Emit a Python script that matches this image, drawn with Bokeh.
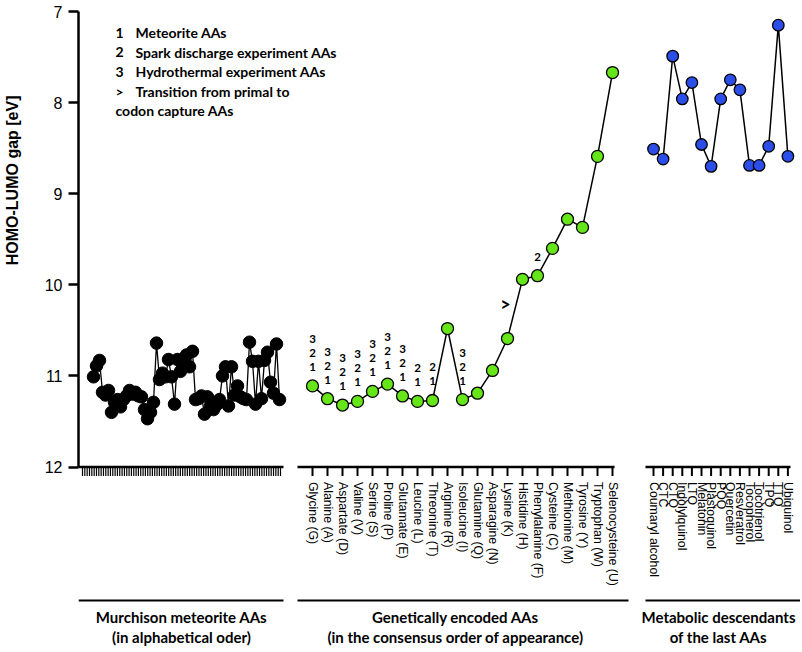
import numpy as np
from bokeh.plotting import figure
from bokeh.models import Range1d, FixedTicker, ColumnDataSource, Title
from bokeh.core.properties import value
from bokeh.embed import file_html
from bokeh.resources import INLINE

# ---------------- data ----------------
murchison_gap = [11.01, 10.89, 10.83, 11.18, 11.21, 11.16, 11.40, 11.29, 11.26, 11.34,
                 11.26, 11.22, 11.16, 11.20, 11.18, 11.22, 11.23, 11.37, 11.47, 11.40,
                 11.29, 10.64, 11.04, 10.97, 11.01, 10.82, 11.01, 11.31, 10.82, 10.95,
                 10.86, 10.77, 10.90, 10.73, 11.26, 11.25, 11.22, 11.42, 11.23, 11.33,
                 11.37, 11.32, 11.26, 11.00, 10.90, 11.33, 10.90, 11.21, 11.11, 11.23,
                 11.25, 11.26, 10.63, 10.84, 11.31, 10.84, 11.25, 10.83, 10.74, 11.07,
                 11.19, 10.65, 11.26]
murchison_tick_count = 86

genetic_names = ["Glycine (G)", "Alanine (A)", "Aspartate (D)", "Valine (V)", "Serine (S)",
                 "Proline (P)", "Glutamate (E)", "Leucine (L)", "Threonine (T)", "Arginine (R)",
                 "Isoleucine (I)", "Glutamine (Q)", "Asparagine (N)", "Lysine (K)", "Histidine (H)",
                 "Phenylalanine (F)", "Cysteine (C)", "Methionine (M)", "Tyrosine (Y)",
                 "Tryptophan (W)", "Selenocysteine (U)"]
genetic_gap = [11.11, 11.25, 11.32, 11.28, 11.17, 11.09, 11.22, 11.28, 11.27, 10.48,
               11.26, 11.19, 10.94, 10.59, 9.94, 9.90, 9.60, 9.28, 9.37, 8.59, 7.67]
# sources in which each AA was found (1 meteorite, 2 spark discharge, 3 hydrothermal)
genetic_sources = ["123", "123", "123", "123", "123", "123", "123", "12", "12", "",
                   "123", "", "", "", "", "2", "", "", "", "", ""]
transition_aa = "Lysine (K)"

metabolic_names = ["Coumaryl alcohol", "CTC", "CTQ", "Indolylquinol", "LTQ", "Melatonin",
                   "Plastoquinol", "PQQ", "Quercetin", "Resveratrol", "Tocopherol",
                   "Tocotrienol", "TPQ", "TTQ", "Ubiquinol"]
metabolic_gap = [8.51, 8.62, 7.49, 7.96, 7.78, 8.46, 8.70, 7.96, 7.75, 7.86, 8.69, 8.69,
                 8.48, 7.15, 8.59]

legend_keys = ["1", "2", "3", ">", ""]
legend_texts = ["Meteorite AAs", "Spark discharge experiment AAs", "Hydrothermal experiment AAs",
                "Transition from primal to", "codon capture AAs"]

group_titles = [("Murchison meteorite AAs", "(in alphabetical oder)"),
                ("Genetically encoded AAs", "(in the consensus order of appearance)"),
                ("Metabolic descendants", "of the last AAs")]
y_ticks = [7, 8, 9, 10, 11, 12]
y_title = "HOMO-LUMO gap [eV]"

# ---------------- layout helpers ----------------
PX_PER_UNIT = 91.1
Y0_PX = 11.0           # page pixel of value 7


def ypx(py):
    return 7 + (py - Y0_PX) / PX_PER_UNIT


W, H = 800, 650
LEFT = 78
FONT = "Lato"
AXFONT = "Liberation Sans"

p = figure(width=W, height=H, output_backend="svg", toolbar_location=None,
           x_range=Range1d(LEFT, W), y_range=Range1d(ypx(H), ypx(0)),
           min_border_left=LEFT, min_border_right=0, min_border_top=0, min_border_bottom=0,
           background_fill_color="white", border_fill_color="white")
p.outline_line_color = None
p.xgrid.visible = False
p.ygrid.visible = False
p.xaxis.visible = False

ya = p.yaxis[0]
ya.ticker = FixedTicker(ticks=y_ticks)
ya.bounds = (7, 12)
ya.axis_line_width = 2.5
ya.major_tick_line_width = 2.5
ya.major_tick_out = 10
ya.major_tick_in = 0
ya.minor_tick_line_color = None
ya.major_label_text_font = AXFONT
ya.major_label_text_font_size = "16px"
ya.major_label_text_color = "black"
ya.major_label_standoff = 6
# blank spacer label so the title sits further left
ya.axis_label = " "
ya.axis_label_text_font_size = "4px"
ya.axis_label_standoff = 13

p.add_layout(Title(text=y_title, align="right", offset=95, text_font=AXFONT,
                   text_font_size="16px", text_font_style="bold", text_color="black",
                   standoff=0), "left")

# ---------------- x positions ----------------
m_x = list(np.linspace(93, 279, len(murchison_gap)))
g_x = [312 + 15 * i for i in range(len(genetic_names))]
b_x = [653 + 9.6 * i for i in range(len(metabolic_names))]

# ---------------- broken x axes ----------------
y_axis_val = 12
tick_end = ypx(Y0_PX + 5 * PX_PER_UNIT + 9)
m_ticks = list(np.linspace(82, 280, murchison_tick_count))
axis_segments = [(78, 283), (297, 614), (645, 790)]
bar_segments = [(78, 283), (297, 628), (645, 800)]
for x0, x1 in axis_segments:
    p.segment(x0=[x0], y0=[y_axis_val], x1=[x1], y1=[y_axis_val], line_color="black",
              line_width=2.5)
all_ticks = m_ticks + g_x + b_x
tick_w = [1.2] * len(m_ticks) + [2] * (len(g_x) + len(b_x))
p.segment(x0=all_ticks, y0=[y_axis_val] * len(all_ticks), x1=all_ticks,
          y1=[tick_end] * len(all_ticks), line_color="black", line_width=tick_w)

# tick labels
p.text(x=g_x + b_x, y=[y_axis_val] * (len(g_x) + len(b_x)), text=genetic_names + metabolic_names,
       angle=-np.pi / 2, text_align="left", text_baseline="middle", y_offset=15,
       text_font=value(AXFONT), text_font_size="12.3px", text_color="black")

# group bars & titles
bar_y = ypx(600)
title_cx = [181, 455, 718]
for (x0, x1), (t1, t2), cx in zip(bar_segments, group_titles, title_cx):
    p.segment(x0=[x0], y0=[bar_y], x1=[x1], y1=[bar_y], line_color="black", line_width=2)
    p.text(x=[cx, cx], y=[ypx(616), ypx(636)], text=[t1, t2], text_align="center",
           text_baseline="middle", text_font=value(FONT), text_font_size="15px",
           text_font_style="bold", text_color="black")

# ---------------- data series ----------------
p.line(m_x, murchison_gap, line_color="black", line_width=1.3)
p.scatter(m_x, murchison_gap, size=12.5, fill_color="black", line_color="black")

p.line(g_x, genetic_gap, line_color="black", line_width=1.5)
p.scatter(g_x, genetic_gap, size=12, fill_color="#66e619", line_color="black", line_width=1.3)

p.line(b_x, metabolic_gap, line_color="black", line_width=1.5)
p.scatter(b_x, metabolic_gap, size=11.5, fill_color="#2c4ee8", line_color="black", line_width=1.3)

# source annotations
ax, ay, at, ao = [], [], [], []
for x, g, s in zip(g_x, genetic_gap, genetic_sources):
    for k, ch in enumerate(sorted(s)):
        ax.append(x)
        ay.append(g)
        at.append(ch)
        ao.append(-19 - 14 * k)
p.text(x="x", y="y", text="t", y_offset="o",
       source=ColumnDataSource(dict(x=ax, y=ay, t=at, o=ao)),
       text_align="center", text_baseline="middle", text_font=value(FONT),
       text_font_size="11.5px", text_font_style="bold", text_color="black")
ti = genetic_names.index(transition_aa)
p.text(x=[g_x[ti]], y=[genetic_gap[ti]], text=[">"], x_offset=-2, y_offset=-35,
       text_align="center", text_baseline="middle", text_font=value(FONT),
       text_font_size="18px", text_font_style="bold", text_color="black")

# legend
for i, (k, t) in enumerate(zip(legend_keys, legend_texts)):
    yy = ypx(32 + 19.5 * i)
    if k:
        p.text(x=[115], y=[yy], text=[k], text_align="left", text_baseline="middle",
               text_font=value(FONT), text_font_size="14px", text_font_style="bold",
               text_color="black")
    p.text(x=[135 if k else 115], y=[yy], text=[t], text_align="left", text_baseline="middle",
           text_font=value(FONT), text_font_size="14px", text_font_style="bold",
           text_color="black")

open("out.html", "w").write(file_html(p, INLINE))
